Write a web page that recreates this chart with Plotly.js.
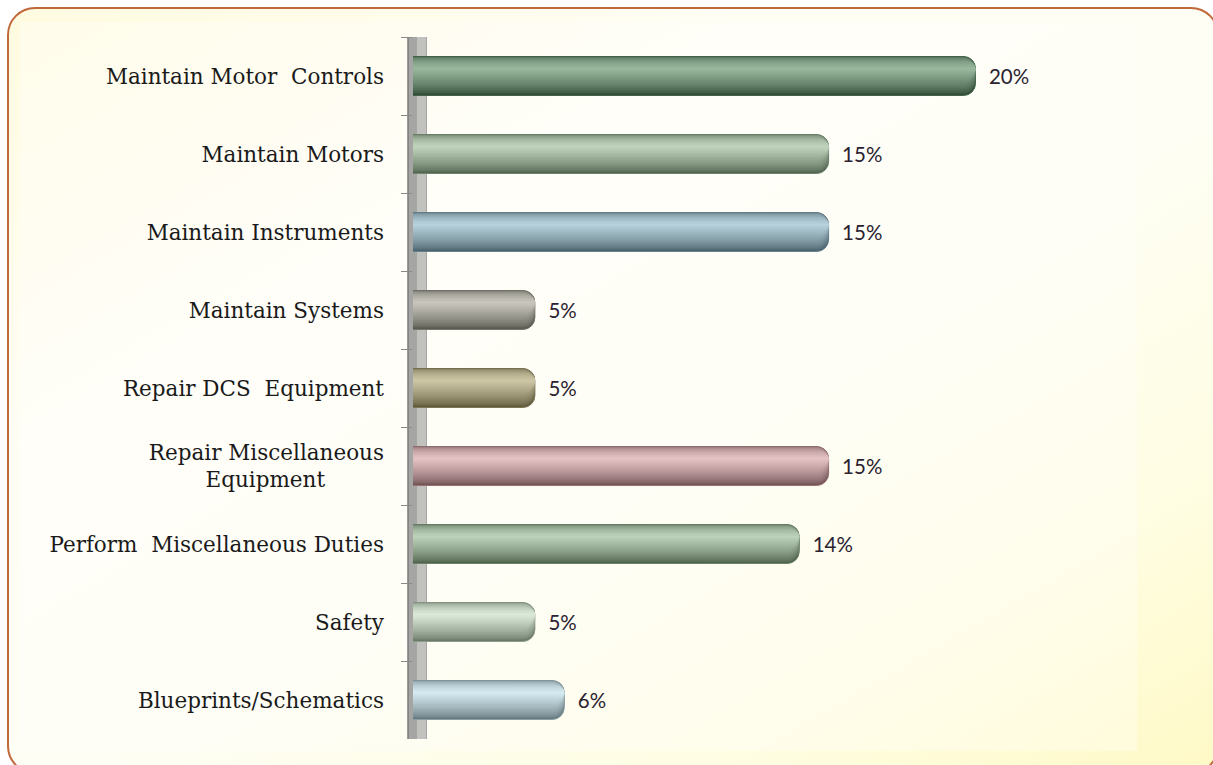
<!DOCTYPE html>
<html>
<head>
<meta charset="utf-8">
<script src="https://cdn.plot.ly/plotly-3.0.1.min.js"></script>
<style>
  html, body { margin:0; padding:0; background:#ffffff; }
  #wrap { position:absolute; left:0; top:0; width:1213px; height:765px; overflow:hidden; background:#ffffff; }
  #frame { position:absolute; left:7px; top:7px; width:1208px; height:763px;
           border:2px solid #c0683a; border-radius:28px;
           background: linear-gradient(150deg, #fffbe0 0%, #fffef5 30%, #fefef4 55%, #fffde2 80%, #fff9c6 100%); }
  #inner { position:absolute; left:20px; top:22px; width:1117px; height:729px;
           background: rgba(255,255,255,0.30); }
  #chart { position:absolute; left:0; top:0; width:1213px; height:765px; }
</style>
</head>
<body>
<div id="wrap">
  <div id="frame"></div>
  <div id="inner"></div>
  <div id="chart"></div>
</div>
<script>
// ---- data ----
const categories = [
  "Maintain Motor  Controls",
  "Maintain Motors",
  "Maintain Instruments",
  "Maintain Systems",
  "Repair DCS  Equipment",
  "Repair Miscellaneous<br>Equipment\u00a0\u00a0\u00a0\u00a0\u00a0\u00a0\u00a0\u00a0\u2009",
  "Perform  Miscellaneous Duties",
  "Safety",
  "Blueprints/Schematics"
];
const percentValues = [20, 15, 15, 5, 5, 15, 14, 5, 6];
const barColors = ["#5f9066", "#9cbd97", "#8fbacb", "#a9a797", "#b3a872",
                   "#d8a0a3", "#97ba92", "#c8e0c4", "#bfe2ec"];

// ---- colour helpers (style only) ----
function rgbOf(hex) {
  const n = parseInt(hex.slice(1), 16);
  return [(n >> 16) & 255, (n >> 8) & 255, n & 255];
}
function mixRGB(a, b, t) { return a.map((c, i) => c + (b[i] - c) * t); }
function css(a) { return "rgb(" + a.map(Math.round).join(",") + ")"; }
const WHITE = [255, 255, 255], BLACK = [0, 0, 0];
function tone(hex, amt) { // amt >0 lighten, <0 darken
  const c = rgbOf(hex);
  return amt >= 0 ? mixRGB(c, WHITE, amt) : mixRGB(c, BLACK, -amt);
}

const HALF = 0.25;      // half bar thickness (category units)
const HL = 0.30;        // highlight position from the top (fraction of thickness)
const traces = [];

// nested layers shrinking toward the highlight line: cylinder shading
const N = 14;
for (let k = 0; k <= N; k++) {
  const f = k / N;
  const top = HL * Math.pow(f, 2.2);
  const bottom = 1 - f * (1 - HL) * 0.97;
  const cols = barColors.map(h => css(mixRGB(tone(h, -0.46), tone(h, 0.38), Math.pow(f, 0.75))));
  const tr = {
    type: "bar", orientation: "h", x: percentValues, y: categories,
    offset: -HALF + 2 * HALF * top, width: Math.max(0.004, 2 * HALF * (bottom - top)),
    marker: { color: cols, cornerradius: 12, line: { width: 0 } },
    hoverinfo: "skip", showlegend: false
  };
  if (k === 0) {
    tr.marker.line = { width: 1, color: barColors.map(h => css(tone(h, -0.3))) };
    tr.texttemplate = "\u00a0\u00a0%{x}%";
    tr.textposition = "outside";
    tr.cliponaxis = false;
    tr.textfont = { family: "Lato, 'Open Sans', sans-serif", size: 20.5, color: "#2b2230" };
  }
  traces.push(tr);
}

const layout = {
  width: 1213, height: 765,
  margin: { l: 413, r: 76, t: 37, b: 26, pad: 0 },
  paper_bgcolor: "rgba(0,0,0,0)",
  plot_bgcolor: "rgba(0,0,0,0)",
  barmode: "overlay",
  xaxis: { range: [0.85, 25.5], showgrid: false, zeroline: false,
           showticklabels: false, ticks: "", showline: false, fixedrange: true },
  yaxis: { type: "category", autorange: "reversed", showgrid: false, zeroline: false,
           showline: false, ticks: "outside", tickson: "boundaries", ticklen: 11,
           tickcolor: "#8a8a8a", tickwidth: 1, ticklabelstandoff: 28,
           tickfont: { family: "'DejaVu Serif', serif", size: 21.5, color: "#1a1a1a" },
           fixedrange: true },
  shapes: [
    { type: "rect", layer: "below", xref: "paper", yref: "paper", xsizemode: "pixel",
      xanchor: 0, x0: -5, x1: 14, y0: 0, y1: 1, fillcolor: "#a5a5a3", line: { width: 0 } },
    { type: "rect", layer: "below", xref: "paper", yref: "paper", xsizemode: "pixel",
      xanchor: 0, x0: 4, x1: 13, y0: 0, y1: 1, fillcolor: "rgba(212,212,206,0.6)", line: { width: 0 } },
    { type: "line", layer: "below", xref: "paper", yref: "paper", xsizemode: "pixel",
      xanchor: 0, x0: -5, x1: -5, y0: 0, y1: 1, line: { color: "#7a7a7a", width: 1.5 } }
  ]
};

Plotly.newPlot("chart", traces, layout, { staticPlot: true, displayModeBar: false });
</script>
</body>
</html>
